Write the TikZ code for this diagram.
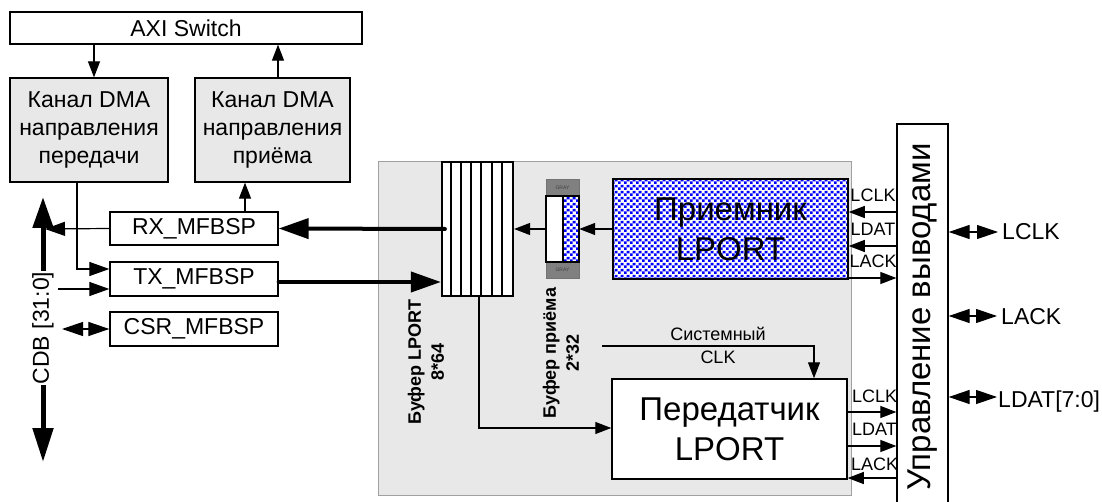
\documentclass[tikz,border=0pt]{standalone}
\usepackage{fontspec}
\setmainfont{Liberation Sans}
\usetikzlibrary{arrows.meta,patterns.meta}
\newcommand\myfs[2]{\fontsize{#1}{#2}\selectfont}
\tikzdeclarepattern{
  name=bluecheck,
  type=colored,
  bottom left={(0pt,0pt)},
  top right={(6pt,6pt)},
  tile size={(6pt,6pt)},
  code={
    \fill[white] (0pt,0pt) rectangle (6pt,6pt);
    \fill[blue] (0pt,0pt) rectangle (3pt,3pt);
    \fill[blue] (3pt,3pt) rectangle (6pt,6pt);
  }
}
\definecolor{lgray}{RGB}{232,232,232}
\definecolor{bgray}{RGB}{160,160,160}
\begin{document}
\begin{tikzpicture}[x=1pt,y=-1pt,
  box/.style={draw, line width=1.3pt, inner sep=0pt, align=center, font=\myfs{23}{28}},
  sig/.style={font=\myfs{18}{20}, inner sep=0pt, anchor=base},
  arr/.style={line width=1.2pt, -{Triangle[length=16pt,width=12pt]}},
  arrs/.style={line width=1.2pt, -{Triangle[length=20pt,width=14pt]}},
  bi/.style={line width=1.2pt, {Triangle[length=21pt,width=14pt]}-{Triangle[length=21pt,width=14pt]}},
  bus/.style={line width=4pt, line cap=round, -{Triangle[length=30pt,width=20pt]}},
  rlab/.style={font=\myfs{23}{26}, inner xsep=4pt, inner ysep=0pt, anchor=base west},
  buflab/.style={font=\bfseries\myfs{18}{23}, align=center, rotate=90, inner sep=0pt}
]
\useasboundingbox (0,0) rectangle (1102,502);
\clip (0,0) rectangle (1102,502);
\fill[white] (0,0) rectangle (1102,502);

% gray region
\node[draw=bgray, fill=lgray, line width=1pt, minimum width=473pt, minimum height=333pt, inner sep=0pt] (blk) at (614.5,328.5) {};

% top-left boxes
\node[box, minimum width=352pt, minimum height=32pt] (axi) at (186,28) {AXI Switch};
\node[box, fill=lgray, minimum width=158pt, minimum height=104pt] (dmatx) at (89,130) {Канал DMA\\направления\\передачи};
\node[box, fill=lgray, minimum width=155pt, minimum height=104pt] (dmarx) at (272.5,130) {Канал DMA\\направления\\приёма};

\node[box, minimum width=168pt, minimum height=33pt] (rxm) at (194,228.5) {RX\_MFBSP};
\node[box, minimum width=168pt, minimum height=34pt] (txm) at (194,279) {TX\_MFBSP};
\node[box, minimum width=168pt, minimum height=34pt] (csr) at (194,329) {CSR\_MFBSP};

% buffer LPORT
\node[draw, fill=white, line width=2.2pt, minimum width=71pt, minimum height=134pt, inner sep=0pt] (bufl) at (477.5,229) {};
\foreach \k in {1,...,6} \draw[line width=2pt] (bufl.north west) ++(\k*71/7,0) -- ++(0,134);
\node[buflab] (bufllab) at (426,362) {Буфер LPORT\\8*64};

% buffer priema
\node[fill=gray, draw=black!55, line width=0.8pt, minimum width=33pt, minimum height=17pt, inner sep=0pt, font=\myfs{5}{6}, text=black!75] (grt) at (562.5,187.5) {GRAY};
\node[fill=gray, draw=black!55, line width=0.8pt, minimum width=33pt, minimum height=16pt, inner sep=0pt, font=\myfs{5}{6}, text=black!75] (grb) at (562.5,270) {GRAY};
\node[fill=white, minimum width=33pt, minimum height=66pt, inner sep=0pt] (bufr) at (562.5,229) {};
\fill[pattern=bluecheck] (563,196) rectangle (579,262);
\draw[line width=2.2pt] (bufr.north west) rectangle (bufr.south east);
\draw[line width=2pt] (bufr.north) ++(0.5,0) -- ++(0,66);
\node[buflab] (bufrlab) at (561,353) {Буфер приёма\\2*32};

% receiver / transmitter
\node[box, line width=1.5pt, preaction={fill=white}, pattern=bluecheck, minimum width=235pt, minimum height=100pt, font=\myfs{33}{40}] (recv) at (730.5,229) {Приемник\\LPORT};
\node[box, line width=1.5pt, fill=white, minimum width=235pt, minimum height=100pt, font=\myfs{33}{40}] (trans) at (729.5,429) {Передатчик\\LPORT};

% pin control
\node[draw, fill=white, line width=1.3pt, minimum width=51pt, minimum height=382pt, inner sep=0pt] (ctl) at (922.5,315) {};
\node[rotate=90, font=\myfs{33}{36}, inner sep=0pt] (ctllab) at (923,317) {Управление выводами};

% top connectors
\draw[arr] (axi.south -| 94,0) -- (dmatx.north -| 94,0);
\draw[arr] (dmarx.north -| 278,0) -- (axi.south -| 278,0);
\draw[arrs] (dmatx.south -| 77,0) |- (txm.west |- 0,269);
\draw[arr] (rxm.north -| 245,0) -- (dmarx.south -| 245,0);

% CDB bus
\coordinate (cdbtop) at (43,197);
\coordinate (cdbbot) at (43,462);
\draw[line width=5pt, {Triangle[length=31pt,width=20pt]}-{Triangle[length=34pt,width=20pt]}] (cdbtop) -- (cdbbot);
\node[rotate=90, fill=white, inner xsep=1pt, inner ysep=0pt, font=\myfs{23}{26}] (cdb) at (43,328) {CDB [31:0]};
\coordinate (cdbrx) at (45,229);
\draw[arrs] (rxm.west) -- (cdbrx);
\coordinate (cdbtx) at (58,289);
\draw[arrs] (cdbtx) -- (txm.west |- cdbtx);
\coordinate (cdbcsr) at (62,329);
\draw[bi] (cdbcsr) -- (csr.west);

% buses
\draw[bus] ([xshift=4pt]bufl.west) -- (rxm.east);
\draw[bus] (txm.east |- 0,282) -- (bufl.west |- 0,282);

% internal
\draw[arr] (bufr.west) -- (bufl.east);
\draw[arr] (recv.west) -- (bufr.east);
\draw[arr] (bufl.south -| 479,0) |- (trans.west |- 0,428);
\coordinate (sysclk) at (602,346);
\draw[arr] (sysclk) -| (trans.north -| 814,0);
\node[sig] (sys1) at (718,340) {Системный};
\node[sig] (sys2) at (718,363) {CLK};

% receiver signals
\draw[arr] (ctl.west |- 0,212) -- (recv.east |- 0,212);
\draw[arr] (ctl.west |- 0,246) -- (recv.east |- 0,246);
\draw[arr] (recv.east |- 0,278) -- (ctl.west |- 0,278);
\node[sig] (rl1) at (873,202) {LCLK};
\node[sig] (rl2) at (873,236) {LDAT};
\node[sig] (rl3) at (873,268) {LACK};

% transmitter signals
\draw[arr] (trans.east |- 0,412) -- (ctl.west |- 0,412);
\draw[arr] (trans.east |- 0,446) -- (ctl.west |- 0,446);
\draw[arr] (ctl.west |- 0,478) -- (trans.east |- 0,478);
\node[sig] (tl1) at (874.5,402) {LCLK};
\node[sig] (tl2) at (874.5,435) {LDAT};
\node[sig] (tl3) at (874.5,470) {LACK};

% external pins
\node[rlab] (plclk) at (998,240) {LCLK};
\node[rlab] (plack) at (997,324) {LACK};
\node[rlab, inner xsep=1pt] (pldat) at (997,407) {LDAT[7:0]};
\draw[bi] (ctl.east |- 0,232) -- (plclk.west |- 0,232);
\draw[bi] (ctl.east |- 0,316) -- (plack.west |- 0,316);
\draw[bi] (ctl.east |- 0,397) -- (pldat.west |- 0,397);
\end{tikzpicture}
\end{document}
